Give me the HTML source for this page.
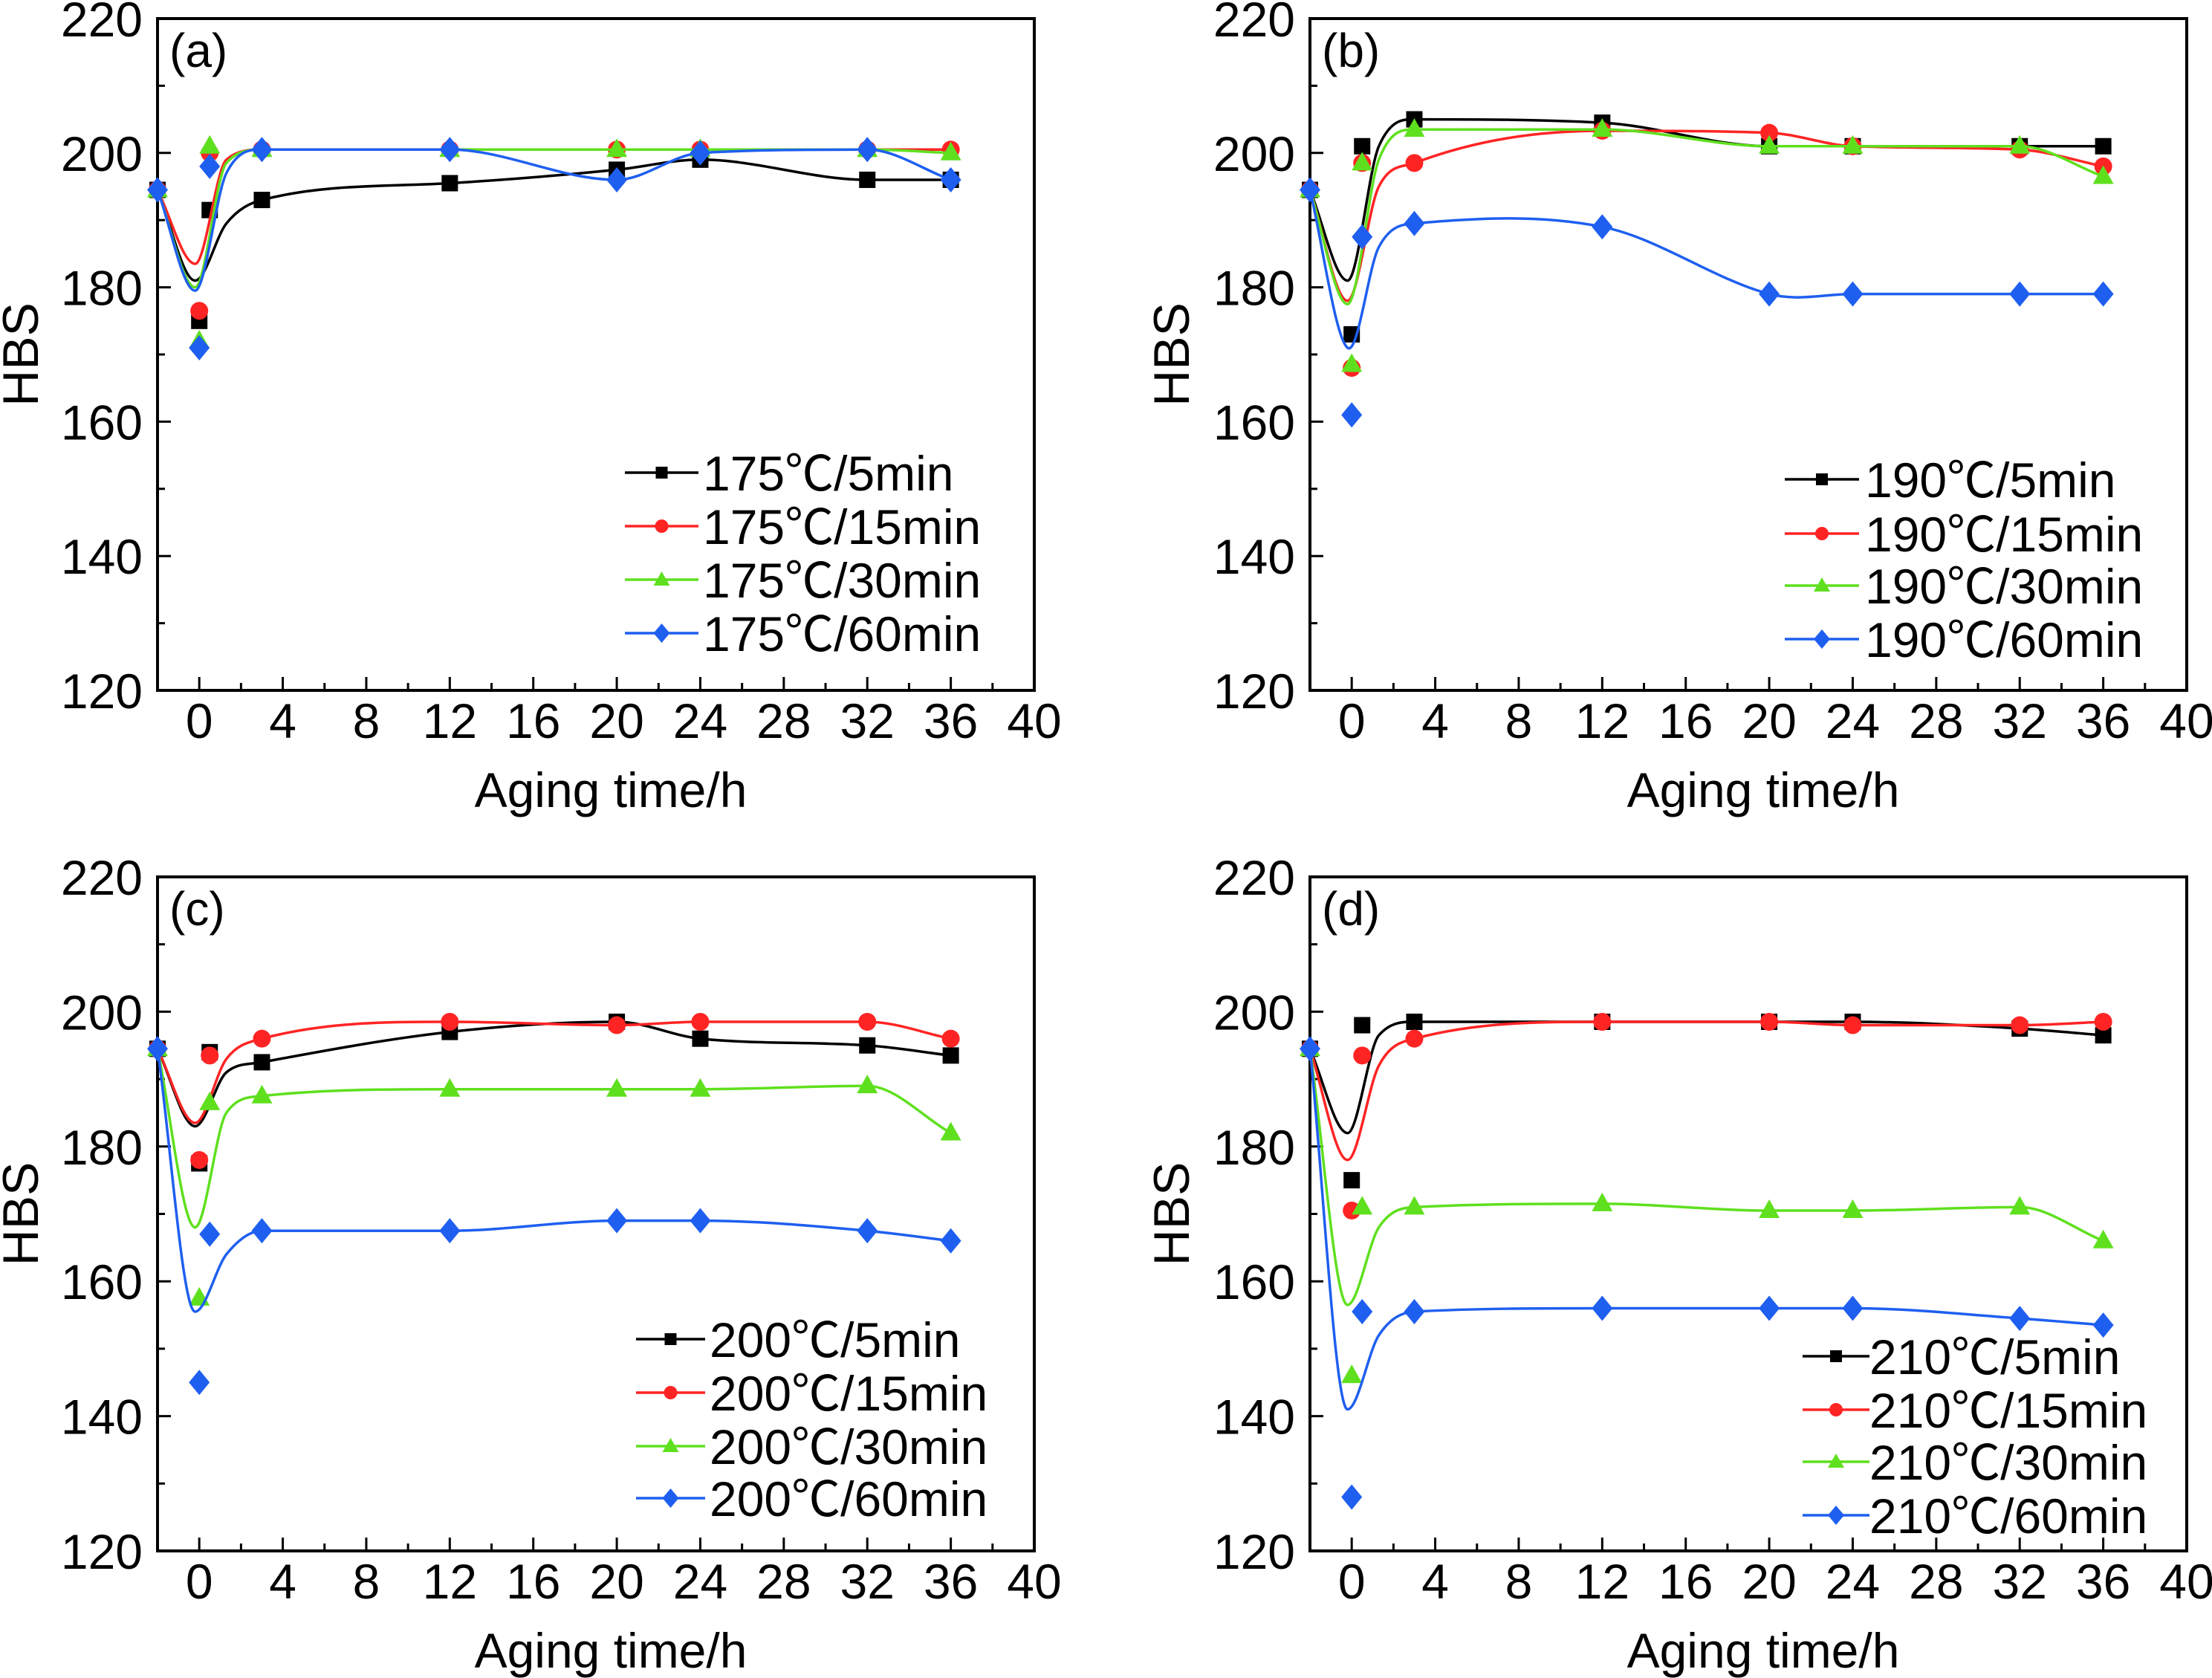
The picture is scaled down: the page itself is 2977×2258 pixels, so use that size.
<!DOCTYPE html>
<html><head><meta charset="utf-8"><style>
html,body{margin:0;padding:0;background:#fff;}
svg{display:block;}
text{font-family:"Liberation Sans","Noto Sans CJK SC",sans-serif;fill:#000;}
</style></head><body>
<svg id="fig" width="2977" height="2258" viewBox="0 0 2977 2258" xmlns="http://www.w3.org/2000/svg"></svg>
<script>
// shared x positions (aging time, h)
const timesH = [-2, 0, 0.5, 3, 12, 20, 24, 32, 36];
const xTicks = [0, 4, 8, 12, 16, 20, 24, 28, 32, 36, 40];
const yTicks = [120, 140, 160, 180, 200, 220];
const seriesColors = ['#000000', '#ff2424', '#5fe01e', '#1f5ff0'];
const seriesMarkers = ['square', 'circle', 'triangle', 'diamond'];
const durations = ['5min', '15min', '30min', '60min'];

// Panel (a) 175C
const a5 = [194.5, 175, 191.5, 193, 195.5, 197.5, 199, 196, 196];
const a15 = [194.5, 176.5, 200, 200.5, 200.5, 200.5, 200.5, 200.5, 200.5];
const a30 = [194.5, 172, 201, 200.5, 200.5, 200.5, 200.5, 200.5, 200];
const a60 = [194.5, 171, 198, 200.5, 200.5, 196, 200, 200.5, 196];
const aDip = [181, 183.5, 180, 179.5];
const aRec = [189.5, 199, 198.5, 197];
// Panel (b) 190C
const b5 = [194.5, 173, 201, 205, 204.5, 201, 201, 201, 201];
const b15 = [194.5, 168, 198.5, 198.5, 203.3, 203, 201, 200.5, 198];
const b30 = [194.5, 168.5, 198.5, 203.5, 203.5, 201, 201, 201, 196.5];
const b60 = [194.5, 161, 187.5, 189.5, 189, 179, 179, 179, 179];
const bDip = [181, 178, 177.5, 171];
const bRec = [201, 195, 199, 186];
// Panel (c) 200C
const c5 = [194.5, 177.5, 194, 192.5, 197, 198.5, 196, 195, 193.5];
const c15 = [194.5, 178, 193.5, 196, 198.5, 198, 198.5, 198.5, 196];
const c30 = [194.5, 157.5, 186.5, 187.5, 188.5, 188.5, 188.5, 189, 182];
const c60 = [194.5, 145, 167, 167.5, 167.5, 169, 169, 167.5, 166];
const cDip = [183, 183.5, 168, 155.5];
const cRec = [191, 193, 185, 164];
// Panel (d) 210C
const d5 = [194.5, 175, 198, 198.5, 198.5, 198.5, 198.5, 197.5, 196.5];
const d15 = [194.5, 170.5, 193.5, 196, 198.5, 198.5, 198, 198, 198.5];
const d30 = [194.5, 146, 171, 171, 171.5, 170.5, 170.5, 171, 166];
const d60 = [194.5, 128, 155.5, 155.5, 156, 156, 156, 154.5, 153.5];
const dDip = [182, 178, 156.5, 141];
const dRec = [196.5, 192, 168, 152];

const panels = [
  {id:'a', temp:'175', data:[a5,a15,a30,a60], dip:aDip, rec:aRec, L:212, R:1392, T:25, B:929, hbsX:27, leg:{x1:841,x2:940,tx:946,y:[636,708,780,852]}},
  {id:'b', temp:'190', data:[b5,b15,b30,b60], dip:bDip, rec:bRec, L:1763, R:2943, T:25, B:929, hbsX:1576, leg:{x1:2402,x2:2502,tx:2510,y:[645,718,788,860]}},
  {id:'c', temp:'200', data:[c5,c15,c30,c60], dip:cDip, rec:cRec, L:212, R:1392, T:1180, B:2087, hbsX:27, leg:{x1:856,x2:949,tx:955,y:[1802,1874,1946,2016]}},
  {id:'d', temp:'210', data:[d5,d15,d30,d60], dip:dDip, rec:dRec, L:1763, R:2943, T:1180, B:2087, hbsX:1576, leg:{x1:2426,x2:2516,tx:2516,y:[1825,1897,1967,2039]}}
];

const NS = 'http://www.w3.org/2000/svg';
const svg = document.getElementById('fig');
function mk(tag, attrs, parent){
  const e = document.createElementNS(NS, tag);
  for (const k in attrs) e.setAttribute(k, attrs[k]);
  (parent||svg).appendChild(e);
  return e;
}
function monotonePath(xs, ys, smooth){
  const n = xs.length, d = [], m = [];
  for (let i=0;i<n-1;i++) d.push((ys[i+1]-ys[i])/(xs[i+1]-xs[i]));
  m[0]=d[0]; m[n-1]=d[n-2];
  for (let i=1;i<n-1;i++){
    if (smooth) m[i] = (ys[i+1]-ys[i-1])/(xs[i+1]-xs[i-1]);
    else m[i] = (d[i-1]*d[i]<=0)?0:(d[i-1]+d[i])/2;
  }
  if (!smooth){
    for (let i=0;i<n-1;i++){
      if (d[i]===0){m[i]=0;m[i+1]=0;continue;}
      const a=m[i]/d[i], b=m[i+1]/d[i], s=a*a+b*b;
      if (s>9){const t=3/Math.sqrt(s); m[i]=t*a*d[i]; m[i+1]=t*b*d[i];}
    }
  }
  let p = 'M'+xs[0].toFixed(1)+','+ys[0].toFixed(1);
  for (let i=0;i<n-1;i++){
    const h=(xs[i+1]-xs[i])/3;
    p += ' C'+(xs[i]+h).toFixed(1)+','+(ys[i]+m[i]*h).toFixed(1)+' '+(xs[i+1]-h).toFixed(1)+','+(ys[i+1]-m[i+1]*h).toFixed(1)+' '+xs[i+1].toFixed(1)+','+ys[i+1].toFixed(1);
  }
  return p;
}
function marker(type, cx, cy, color, g, name){
  let e;
  if (type==='square') e = mk('rect',{x:cx-11,y:cy-11,width:22,height:22,fill:color},g);
  else if (type==='circle') e = mk('circle',{cx:cx,cy:cy,r:12,fill:color},g);
  else if (type==='triangle') e = mk('polygon',{points:`${cx},${cy-15} ${cx+14},${cy+10} ${cx-14},${cy+10}`,fill:color},g);
  else e = mk('polygon',{points:`${cx},${cy-17} ${cx+14},${cy} ${cx},${cy+17} ${cx-14},${cy}`,fill:color},g);
  
  
  return e;
}

panels.forEach(P=>{
  const xs = v => P.L + (v+2)/42*(P.R-P.L);
  const ys = v => P.B - (v-120)/100*(P.B-P.T);
  const g = mk('g',{});
  
  
  for (let t=0;t<=40;t+=2){
    const major = t%4===0;
    const tk = mk('line',{x1:xs(t),x2:xs(t),y1:P.B,y2:P.B-(major?18:10),stroke:'#000','stroke-width':3},g);
    
    
  }
  for (let v=120;v<=220;v+=10){
    const major = v%20===0;
    const tk = mk('line',{x1:P.L,x2:P.L+(major?18:10),y1:ys(v),y2:ys(v),stroke:'#000','stroke-width':3},g);
    
    
  }
  const fr = mk('rect',{x:P.L,y:P.T,width:P.R-P.L,height:P.B-P.T,fill:'none',stroke:'#000','stroke-width':4},g);
  
  
  xTicks.forEach(t=>{
    const tx = mk('text',{x:xs(t),y:P.B+64,'font-size':66,'text-anchor':'middle'},g);
    tx.textContent = t;
    
    
  });
  yTicks.forEach(v=>{
    const tx = mk('text',{x:P.L-20,y:ys(v)+24,'font-size':66,'text-anchor':'end'},g);
    tx.textContent = v;
    
    
  });
  const xt = mk('text',{x:(P.L+P.R)/2+20,y:P.B+157,'font-size':66,'text-anchor':'middle'},g);
  xt.textContent = 'Aging time/h';
  
  
  const yt = mk('text',{x:0,y:0,'font-size':68,'text-anchor':'middle',transform:`translate(${P.hbsX+24},${(P.T+P.B)/2}) rotate(-90)`},g);
  yt.textContent = 'HBS';
  
  
  const pl = mk('text',{x:P.L+16,y:P.T+65,'font-size':64},g);
  pl.textContent = '('+P.id+')';
  
  
  P.data.forEach((vals,i)=>{
    const col = seriesColors[i];
    const sg = mk('g',{},g);
    
    
    const kx = [-2, -0.2, 1.3].concat(timesH.slice(3));
    const ky = [vals[0], P.dip[i], P.rec[i]].concat(vals.slice(3));
    const smooth = (P.id==='b' && i===3);
    const path = mk('path',{d:monotonePath(kx.map(xs), ky.map(ys), smooth),fill:'none',stroke:col,'stroke-width':3.5},sg);
    
    
    vals.forEach((v,j)=>{
      marker(seriesMarkers[i], xs(timesH[j]), ys(v), col, sg, 'data-point');
    });
  });
  const lg = mk('g',{},g);
  
  
  durations.forEach((d,i)=>{
    const y = P.leg.y[i], col = seriesColors[i];
    const ln = mk('line',{x1:P.leg.x1,x2:P.leg.x2,y1:y,y2:y,stroke:col,'stroke-width':3.5},lg);
    
    
    const mx = (P.leg.x1+P.leg.x2)/2;
    const m = seriesMarkers[i];
    let e;
    if (m==='square') e = mk('rect',{x:mx-8,y:y-8,width:16,height:16,fill:col},lg);
    else if (m==='circle') e = mk('circle',{cx:mx,cy:y,r:9,fill:col},lg);
    else if (m==='triangle') e = mk('polygon',{points:`${mx},${y-11} ${mx+11},${y+8} ${mx-11},${y+8}`,fill:col},lg);
    else e = mk('polygon',{points:`${mx},${y-13} ${mx+11},${y} ${mx},${y+13} ${mx-11},${y}`,fill:col},lg);
    
    
    const tx = mk('text',{x:P.leg.tx,y:y+24,'font-size':66},lg);
    tx.textContent = P.temp+'℃/'+d;
    
    
  });
});
</script>
</body></html>
